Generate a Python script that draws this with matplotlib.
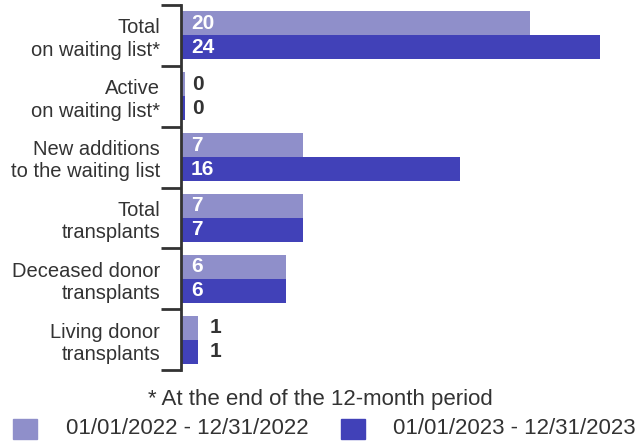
import matplotlib.pyplot as plt
import numpy as np

plt.rcParams['font.family'] = ['Liberation Sans', 'DejaVu Sans']

categories = ["Total\non waiting list*", "Active\non waiting list*",
              "New additions\nto the waiting list", "Total\ntransplants",
              "Deceased donor\ntransplants", "Living donor\ntransplants"]
period_2022 = [20, 0, 7, 7, 6, 1]
period_2023 = [24, 0, 16, 7, 6, 1]
series_labels = ["01/01/2022 - 12/31/2022", "01/01/2023 - 12/31/2023"]
footnote = "* At the end of the 12-month period"

light = "#8f8fca"
dark = "#4141b8"
text_col = "#333333"


def main():
    fig = plt.figure(figsize=(6.4, 4.42), dpi=100)
    ax = fig.add_axes([181 / 640, 1 - 370 / 442, 1 - 181 / 640, 365 / 442])

    y = np.arange(len(categories))
    h = 0.395
    px = 17.46  # pixels per unit
    xmax = (640 - 181) / px
    for vals, off, col in [(period_2022, -h / 2, light), (period_2023, h / 2, dark)]:
        # zero values still get a sliver of a bar, like the original
        w = [max(v, 0.25) for v in vals]
        ax.barh(y + off, w, height=h, color=col)
        for yi, v in zip(y, vals):
            if v >= 3:
                ax.text(10 / px, yi + off, str(v), color="white", fontweight="bold",
                        fontsize=15, va="center", ha="left")
            else:
                ax.text(max(v * px + 11, 10) / px, yi + off, str(v), color=text_col,
                        fontweight="bold", fontsize=15, va="center", ha="left")

    ax.set_xlim(0, xmax)
    ax.set_ylim(len(categories) - 0.5, -0.5)
    for s in ["top", "right", "bottom"]:
        ax.spines[s].set_visible(False)
    ax.spines["left"].set_linewidth(2)
    ax.spines["left"].set_color(text_col)
    ax.set_xticks([])
    ax.set_yticks(np.arange(-0.5, len(categories), 1.0))
    ax.set_yticklabels([])
    ax.tick_params(axis="y", which="major", length=14.5, width=2, color=text_col)
    ax.set_yticks(y, minor=True)
    ax.set_yticklabels(categories, minor=True, fontsize=14.5, color=text_col, linespacing=1.22)
    ax.tick_params(axis="y", which="minor", length=0, pad=15)

    fig.text(320 / 640, 1 - 399 / 442, footnote, ha="center", va="center", fontsize=16, color=text_col)
    fig.patches.append(plt.Rectangle((13 / 640, 1 - 439 / 442), 24 / 640, 20 / 442,
                                     transform=fig.transFigure, color=light))
    fig.patches.append(plt.Rectangle((341 / 640, 1 - 439 / 442), 24 / 640, 20 / 442,
                                     transform=fig.transFigure, color=dark))
    fig.text(66 / 640, 1 - 429 / 442, series_labels[0], ha="left", va="center", fontsize=16, color=text_col)
    fig.text(393 / 640, 1 - 429 / 442, series_labels[1], ha="left", va="center", fontsize=16, color=text_col)

    fig.savefig("out.png", dpi=100)


if __name__ == "__main__":
    main()
